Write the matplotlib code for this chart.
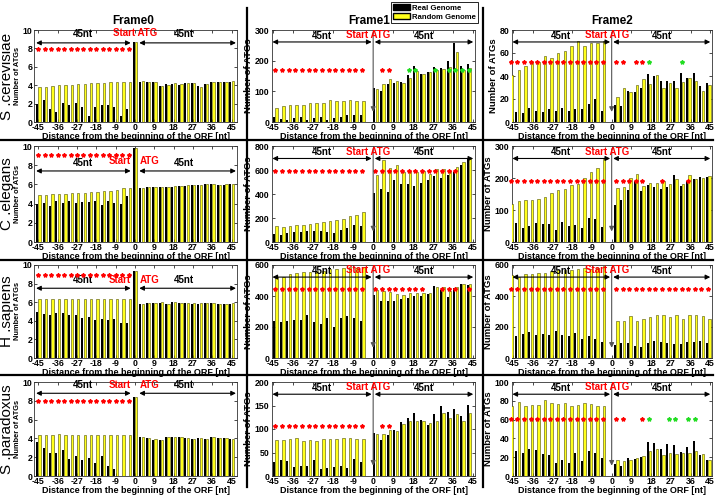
import matplotlib
matplotlib.use('Agg')
import matplotlib.pyplot as plt
from matplotlib.lines import Line2D
from matplotlib.patches import Patch
import numpy as np

plt.rcParams['font.family'] = ['Liberation Sans', 'DejaVu Sans']
plt.rcParams['font.weight'] = 'bold'

species = ['S .cerevisiae', 'C .elegans', 'H .sapiens', 'S .paradoxus']
frames = ['Frame0', 'Frame1', 'Frame2']
xticks = [-45, -36, -27, -18, -9, 0, 9, 18, 27, 36, 45]

# nucleotide positions of the bars in each frame
pos_f0 = list(range(-45, 46, 3))
pos_f1 = list(range(-44, -4, 3)) + list(range(1, 44, 3))
pos_f2 = list(range(-46, -3, 3)) + list(range(2, 45, 3))

# ---- S. cerevisiae
cer_f0_real = [2.0, 2.4, 1.4, 1.1, 2.1, 1.8, 2.1, 1.6, 0.7, 1.6, 1.8, 1.8, 1.6, 0.7, 1.4,
               8.7,
               4.4, 4.4, 4.35, 3.95, 4.1, 4.15, 4.05, 4.2, 4.2, 3.9, 4.15, 4.35, 4.3, 4.3, 4.4]
cer_f0_rand = [3.8, 3.85, 3.9, 4.0, 4.05, 4.05, 4.1, 4.15, 4.2, 4.2, 4.25, 4.3, 4.3, 4.3, 4.3,
               8.7,
               4.45, 4.4, 4.4, 3.95, 4.05, 4.2, 4.1, 4.25, 4.2, 3.85, 4.15, 4.4, 4.3, 4.3, 4.45]
cer_f1_real = [16, 10, 6, 13, 15, 5, 13, 15, 5, 14, 16, 22, 24, 24,
               112, 100, 125, 128, 132, 153, 182, 155, 163, 178, 176, 198, 258, 183, 188]
cer_f1_rand = [47, 52, 54, 55, 57, 62, 62, 61, 71, 69, 70, 72, 70, 68,
               108, 125, 140, 135, 128, 145, 165, 157, 162, 168, 172, 178, 228, 168, 175]
cer_f2_real = [0, 9, 8, 12, 10, 9, 11, 10, 12, 10, 11, 11, 16, 20, 10,
               15, 14, 27, 26, 30, 42, 40, 36, 36, 36, 43, 38, 43, 31, 34]
cer_f2_rand = [41, 45, 49, 52, 52, 57, 56, 60, 62, 66, 70, 66, 69, 69, 70,
               22, 30, 26, 32, 37, 33, 41, 30, 34, 30, 35, 38, 36, 27, 32]

# ---- C. elegans
ele_f0_real = [4.0, 4.1, 3.8, 4.25, 4.1, 4.3, 4.05, 4.15, 4.2, 4.3, 3.9, 4.3, 4.1, 4.0, 4.8,
               9.8,
               5.6, 5.7, 5.7, 5.75, 5.75, 5.75, 5.85, 5.85, 5.95, 5.95, 6.0, 6.0, 5.9, 5.9, 6.0]
ele_f0_rand = [4.9, 4.9, 5.0, 5.0, 5.0, 5.1, 5.1, 5.15, 5.2, 5.25, 5.3, 5.35, 5.45, 5.6, 5.6,
               9.8,
               5.65, 5.7, 5.75, 5.75, 5.75, 5.8, 5.85, 5.9, 5.95, 5.95, 6.0, 6.0, 5.95, 6.0, 6.0]
ele_f1_real = [70, 62, 78, 82, 80, 88, 90, 95, 80, 78, 100, 120, 138, 130,
               410, 445, 415, 520, 485, 480, 465, 490, 520, 550, 530, 555, 580, 640, 690]
ele_f1_rand = [130, 125, 135, 138, 142, 150, 158, 165, 175, 183, 195, 215, 225, 250,
               555, 685, 620, 640, 580, 590, 580, 590, 565, 605, 610, 590, 625, 665, 700]
ele_f2_real = [0, 60, 45, 50, 60, 55, 56, 36, 62, 50, 53, 45, 75, 72, 47,
               115, 130, 162, 190, 160, 178, 172, 167, 172, 208, 175, 190, 198, 202, 202]
ele_f2_rand = [120, 128, 130, 131, 135, 142, 152, 162, 165, 178, 180, 200, 220, 232, 258,
               170, 173, 200, 213, 175, 185, 185, 190, 182, 197, 182, 208, 197, 200, 207]

# ---- H. sapiens
sap_f0_real = [4.95, 4.75, 4.6, 4.85, 4.85, 4.65, 4.6, 4.35, 4.4, 4.05, 4.15, 4.1, 4.15, 3.75, 3.8,
               9.4,
               5.8, 5.9, 5.9, 5.95, 5.85, 6.0, 5.9, 5.9, 5.85, 5.85, 5.9, 5.9, 5.8, 5.8, 5.85]
sap_f0_rand = [6.3, 6.3, 6.3, 6.35, 6.35, 6.35, 6.35, 6.35, 6.35, 6.35, 6.35, 6.35, 6.35, 6.35, 6.35,
               9.4,
               5.85, 5.9, 5.95, 6.0, 5.85, 6.0, 5.95, 5.95, 5.9, 5.9, 5.95, 5.95, 5.85, 5.85, 5.95]
sap_f1_real = [240, 230, 240, 245, 248, 275, 235, 220, 255, 200, 260, 268, 258, 240,
               405, 370, 370, 365, 380, 390, 400, 400, 410, 465, 440, 395, 450, 480, 470]
sap_f1_rand = [520, 525, 540, 550, 555, 555, 560, 560, 575, 575, 580, 585, 580, 590,
               440, 435, 425, 415, 405, 420, 420, 420, 420, 460, 460, 430, 460, 480, 480]
sap_f2_real = [0, 145, 155, 165, 150, 155, 150, 175, 150, 145, 160, 120, 145, 120, 105,
               85, 95, 95, 80, 72, 100, 110, 105, 95, 92, 90, 105, 105, 108, 100]
sap_f2_rand = [535, 520, 540, 545, 548, 550, 560, 565, 565, 570, 575, 580, 575, 578, 595,
               240, 240, 270, 240, 250, 265, 275, 280, 265, 275, 250, 275, 275, 270, 250]

# ---- S. paradoxus
par_f0_real = [3.6, 2.95, 2.4, 2.5, 2.8, 1.8, 2.1, 1.65, 1.95, 1.4, 2.1, 1.1, 0.7, 0, 0,
               8.4,
               4.1, 4.0, 3.85, 3.85, 4.2, 4.15, 4.1, 4.0, 3.9, 4.05, 3.9, 4.1, 4.05, 4.0, 3.9]
par_f0_rand = [4.4, 4.4, 4.4, 4.45, 4.4, 4.4, 4.4, 4.4, 4.4, 4.4, 4.4, 4.4, 4.4, 4.4, 4.4,
               8.4,
               4.1, 4.0, 3.9, 3.85, 4.2, 4.15, 4.1, 4.0, 3.9, 4.05, 3.9, 4.1, 4.05, 4.0, 3.9]
par_f1_real = [30, 33, 31, 20, 22, 22, 33, 15, 18, 20, 22, 16, 37, 29,
               92, 77, 88, 97, 115, 123, 133, 120, 108, 132, 148, 137, 142, 128, 151]
par_f1_rand = [77, 77, 79, 80, 75, 77, 75, 78, 78, 79, 80, 80, 78, 79,
               90, 90, 98, 95, 110, 117, 117, 118, 113, 118, 135, 124, 132, 117, 133]
par_f2_real = [0, 27, 25, 29, 28, 23, 22, 14, 17, 14, 24, 16, 27, 25, 19,
               13, 11, 19, 18, 20, 36, 35, 29, 34, 33, 26, 31, 37, 22, 17]
par_f2_rand = [75, 79, 75, 76, 76, 81, 78, 77, 78, 74, 76, 78, 77, 75, 75,
               17, 16, 17, 19, 21, 27, 29, 22, 24, 23, 25, 24, 27, 23, 17]

# significance marks (red / green stars): x positions and level
f0_red = list(range(-45, -2, 3))
f1_red_left = list(range(-44, -4, 3))
f2_red_left = list(range(-46, -3, 3))
cer_f0_star = 7.95
cer_f1_red = f1_red_left + [4, 7]
cer_f1_green = [16, 19, 28, 34, 37, 40, 43]
cer_f1_star = 170
cer_f2_red = f2_red_left + [2, 5, 11, 14]
cer_f2_green = [17, 32]
cer_f2_star = 52
ele_f0_star = 9.05
ele_f1_red = f1_red_left + list(range(1, 38, 3))
ele_f1_green = []
ele_f1_star = 590
ele_f2_red = f2_red_left + [2, 5, 8, 11, 14, 23, 35]
ele_f2_green = []
ele_f2_star = 190
sap_f0_star = 8.9
sap_f1_red = f1_red_left + [1, 4, 7, 10, 13, 16, 19, 22, 31, 34, 37, 43]
sap_f1_green = []
sap_f1_star = 445
sap_f2_red = f2_red_left + list(range(2, 45, 3))
sap_f2_green = []
sap_f2_star = 445
par_f0_star = 8.0
par_f1_red = f1_red_left + [4, 7]
par_f1_green = []
par_f1_star = 107
par_f2_red = f2_red_left + [2, 5, 14]
par_f2_green = [17, 26, 29, 35, 38]
par_f2_star = 61

ylims = [[10, 300, 80], [10, 800, 300], [10, 600, 600], [10, 200, 100]]
yticks = [[range(0, 11, 2), range(0, 301, 100), range(0, 81, 20)],
          [range(0, 11, 2), range(0, 801, 200), range(0, 301, 100)],
          [range(0, 11, 2), range(0, 601, 200), range(0, 601, 200)],
          [range(0, 11, 2), range(0, 201, 50), range(0, 101, 20)]]

real = [[cer_f0_real, cer_f1_real, cer_f2_real],
        [ele_f0_real, ele_f1_real, ele_f2_real],
        [sap_f0_real, sap_f1_real, sap_f2_real],
        [par_f0_real, par_f1_real, par_f2_real]]
rand = [[cer_f0_rand, cer_f1_rand, cer_f2_rand],
        [ele_f0_rand, ele_f1_rand, ele_f2_rand],
        [sap_f0_rand, sap_f1_rand, sap_f2_rand],
        [par_f0_rand, par_f1_rand, par_f2_rand]]
red = [[f0_red, cer_f1_red, cer_f2_red],
       [f0_red, ele_f1_red, ele_f2_red],
       [f0_red, sap_f1_red, sap_f2_red],
       [f0_red, par_f1_red, par_f2_red]]
green = [[[], cer_f1_green, cer_f2_green],
         [[], ele_f1_green, ele_f2_green],
         [[], sap_f1_green, sap_f2_green],
         [[], par_f1_green, par_f2_green]]
star_y = [[cer_f0_star, cer_f1_star, cer_f2_star],
          [ele_f0_star, ele_f1_star, ele_f2_star],
          [sap_f0_star, sap_f1_star, sap_f2_star],
          [par_f0_star, par_f1_star, par_f2_star]]
positions = [pos_f0, pos_f1, pos_f2]

# frame0 annotation heights: (arrow y, "45nt" y, "Start ATG" y, split text?)
f0_annot = [(8.6, 9.0, 9.1, False), (7.4, 7.75, 7.9, True),
            (7.5, 7.85, 7.85, True), (8.8, 9.15, 9.2, True)]

W, H = 721, 496
fig = plt.figure(figsize=(W / 100, H / 100), dpi=100)

col_left = [34, 272, 512]
col_right = [237, 475, 712]
row_top = [30, 146, 265, 382]
row_bot = [122, 242, 358, 476]
title_x = [0.49, 0.48, 0.5]

YEL = '#ffff1a'
FS = 6.3
for r in range(4):
    for c in range(3):
        ax = fig.add_axes([col_left[c] / W, 1 - row_bot[r] / H,
                           (col_right[c] - col_left[c]) / W, (row_bot[r] - row_top[r]) / H])
        p = np.array(positions[c])
        ax.bar(p - 0.55, real[r][c], width=0.9, color='black', zorder=2)
        ax.bar(p + 0.6, rand[r][c], width=1.1, color=YEL, edgecolor='#4a4a00',
               linewidth=0.4, zorder=3)
        ax.plot(red[r][c], [star_y[r][c]] * len(red[r][c]), linestyle='none', marker='*',
                ms=3.0, color='red', mec='red', zorder=5, clip_on=False)
        if green[r][c]:
            ax.plot(green[r][c], [star_y[r][c]] * len(green[r][c]), linestyle='none',
                    marker='*', ms=3.0, color='#22dd22', mec='#22dd22', zorder=5)
        if c == 0:
            ax.set_xlim(-47, 47.5)
        else:
            ax.set_xlim(-45.5, 45.8)
        ax.set_ylim(0, ylims[r][c])
        ax.set_xticks(xticks)
        ax.set_xticklabels([str(t) for t in xticks])
        ax.set_yticks(list(yticks[r][c]))
        ax.tick_params(direction='in', length=2, labelsize=FS, pad=1,
                       top=True, right=True, width=0.5)
        ax.tick_params(axis='y', pad=1.8 if c else 1.2)
        for s in ax.spines.values():
            s.set_linewidth(0.6)
            s.set_color('#333333')
        ax.set_xlabel('Distance from the beginning of the ORF [nt]', fontsize=6.5,
                      fontweight='bold', labelpad=0)
        ax.set_ylabel('Number of ATGs', fontsize=5.3 if c == 0 else 6.8,
                      fontweight='bold', labelpad=1)
        if c == 0:
            ax.yaxis.set_label_coords(-0.062, 0.5)
        if r == 0:
            ax.set_title(frames[c], fontsize=8.5, fontweight='bold', pad=4, x=title_x[c])

        arrow_kw = dict(arrowstyle='<|-|>', color='black', lw=0.8,
                        mutation_scale=7, shrinkA=0, shrinkB=0)
        if c == 0:
            ay, ny, sy, split = f0_annot[r]
            ax.annotate('', xy=(-2, ay), xytext=(-46, ay), arrowprops=arrow_kw)
            ax.annotate('', xy=(47, ay), xytext=(2, ay), arrowprops=arrow_kw)
            ax.text(-24, ny, '45nt', ha='center', va='bottom', fontsize=7, fontweight='bold')
            ax.text(23, ny, '45nt', ha='center', va='bottom', fontsize=7, fontweight='bold')
            if split:
                ax.text(-1.8, sy, 'Start', ha='right', va='bottom', fontsize=7,
                        fontweight='bold', color='red')
                ax.text(2, sy, 'ATG', ha='left', va='bottom', fontsize=7,
                        fontweight='bold', color='red')
            else:
                ax.text(0, sy, 'Start ATG', ha='center', va='bottom', fontsize=7,
                        fontweight='bold', color='red')
        else:
            tr = ax.get_xaxis_transform()
            ax.annotate('', xy=(-0.7, 0.87), xytext=(-45.3, 0.87), xycoords=tr,
                        textcoords=tr, arrowprops=arrow_kw)
            ax.annotate('', xy=(45, 0.87), xytext=(0.7, 0.87), xycoords=tr,
                        textcoords=tr, arrowprops=arrow_kw)
            ax.annotate('', xy=(0, 0.11), xytext=(0, 0.97), xycoords=tr, textcoords=tr,
                        arrowprops=dict(arrowstyle='-|>', color='#555555', lw=0.8,
                                        mutation_scale=7, shrinkA=0, shrinkB=0), zorder=6)
            ax.text(-23, 0.885, '45nt', transform=tr, ha='center', va='bottom',
                    fontsize=7, fontweight='bold')
            ax.text(23, 0.885, '45nt', transform=tr, ha='center', va='bottom',
                    fontsize=7, fontweight='bold')
            ax.text(-2.3, 0.89, 'Start ATG', transform=tr, ha='center', va='bottom',
                    fontsize=7, fontweight='bold', color='red', zorder=7)

# species names on the left
for r in range(4):
    yc = 1 - (row_top[r] + row_bot[r]) / 2 / H
    fig.text(0, yc, species[r], rotation=90, ha='left', va='center',
             fontsize=11, fontweight='normal')

# panel separators
for x in [247, 483]:
    fig.add_artist(Line2D([x / W, x / W], [1 - 8 / H, 1 - 487 / H], color='black', lw=1.6))
for y in [140, 260, 375]:
    fig.add_artist(Line2D([0, 713 / W], [1 - y / H, 1 - y / H], color='black', lw=1.6))

handles = [Patch(facecolor='black', edgecolor='black'),
           Patch(facecolor=YEL, edgecolor='black')]
leg = fig.legend(handles, ['Real Genome', 'Random Genome'], loc='upper left',
                 bbox_to_anchor=(391 / W, 1 - 2 / H), fontsize=5.6, frameon=True,
                 fancybox=False, edgecolor='black', handlelength=2.2, handleheight=0.9,
                 borderpad=0.25, labelspacing=0.15, handletextpad=0.3, borderaxespad=0)
leg.get_frame().set_linewidth(0.6)
leg.get_frame().set_alpha(1)

fig.savefig('out.png', dpi=100)
